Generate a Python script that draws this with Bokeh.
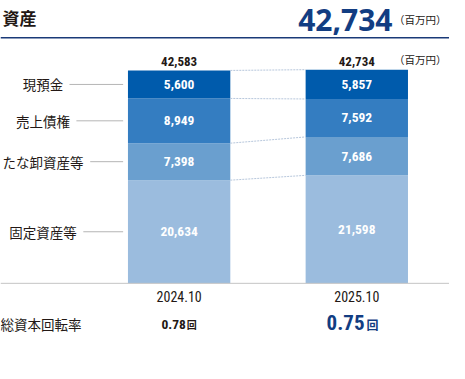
from bokeh.plotting import figure
from bokeh.models import Range1d, ColumnDataSource
from bokeh.core.properties import value
from bokeh.embed import file_html
from bokeh.resources import INLINE

# ---- data ----
categories = ["現預金", "売上債権", "たな卸資産等", "固定資産等"]
periods = ["2024.10", "2025.10"]
cash = [5600, 5857]
receivables = [8949, 7592]
inventory = [7398, 7686]
fixed_assets = [20634, 21598]
totals = [42583, 42734]
turnover = ["0.78", "0.75"]
headline_total = "42,734"
unit_label = "（百万円）"
title = "資産"
turnover_label = "総資本回転率"

# ---- layout (reference pixel space 465 x 379, drawn into 449 x 363) ----
W, H = 449, 363
REF_W, REF_H = 465, 379
BASE_PX = 295.3          # baseline in reference px
PX_PER_UNIT = 0.00522    # reference px per million yen
y_start = -(REF_H - BASE_PX) / PX_PER_UNIT
y_end = BASE_PX / PX_PER_UNIT

p = figure(width=W, height=H, output_backend="svg", toolbar_location=None,
           x_range=Range1d(0, REF_W), y_range=Range1d(y_start, y_end),
           x_axis_type=None, y_axis_type=None, min_border=0)
p.extra_y_ranges = {"px": Range1d(REF_H, 0)}
p.grid.visible = False
p.outline_line_color = None
p.background_fill_color = "white"
p.border_fill_color = "white"

NUM_FONT = value("Roboto Condensed")
JP_FONT = value("Noto Sans CJK JP")
DARK = "#231815"
NAVY = "#123d82"
colors = ["#9bbcde", "#6a9fcf", "#347dc1", "#005bac"]  # bottom -> top

bar_x = [185, 369]
bar_w = 106

# stacked segments bottom->top
stack = [fixed_assets, inventory, receivables, cash]
bottoms = [0, 0]
seg_mids = []
tops_all = []
for vals, col in zip(stack, colors):
    tops = [b + v for b, v in zip(bottoms, vals)]
    src = ColumnDataSource(dict(x=bar_x, bottom=bottoms, top=tops,
                                mid=[(b + t) / 2 for b, t in zip(bottoms, tops)],
                                lab=[f"{v:,}" for v in vals]))
    p.vbar(x="x", width=bar_w, bottom="bottom", top="top", source=src,
           fill_color=col, line_color=None)
    p.text(x="x", y="mid", text="lab", source=src, text_align="center",
           text_baseline="middle", text_color="white", text_font=NUM_FONT,
           text_font_size="13.5px", text_font_style="bold")
    seg_mids.append([(b + t) / 2 for b, t in zip(bottoms, tops)])
    tops_all.append(tops)
    bottoms = tops

# connector dotted lines between bars
x_left_edge = bar_x[0] + bar_w / 2
x_right_edge = bar_x[1] - bar_w / 2
p.segment(x0=[x_left_edge] * 4, y0=[t[0] for t in tops_all],
          x1=[x_right_edge] * 4, y1=[t[1] for t in tops_all],
          line_color="#b7c7dc", line_width=1, line_dash="2 1")

# left category labels (categories listed top->bottom, stack is bottom->top)
label_cx = 44
for i, cat in enumerate(categories):
    ymid = seg_mids[len(categories) - 1 - i][0]
    p.text(x=[label_cx], y=[ymid], text=[cat], text_align="center",
           text_baseline="middle", text_color=DARK, text_font=JP_FONT,
           text_font_size="13.5px")
    x0 = label_cx + len(cat) * 14.3 / 2 + 6
    p.segment(x0=[x0], y0=[ymid], x1=[127], y1=[ymid],
              line_color="#b5b5b5", line_width=1)

# totals above bars
p.text(x=bar_x, y=totals, text=[f"{t:,}" for t in totals], text_align="center",
       text_baseline="bottom", y_offset=-4, text_color=DARK, text_font=NUM_FONT,
       text_font_size="13px", text_font_style="bold")
p.text(x=[462], y=[62], y_range_name="px", text=[unit_label], text_align="right",
       text_baseline="middle", text_color=DARK, text_font=JP_FONT,
       text_font_size="10.5px")

# baseline
p.segment(x0=[0], y0=[0], x1=[REF_W], y1=[0], line_color="#c4c4c4", line_width=1)

# period labels
p.text(x=bar_x, y=[309, 309], y_range_name="px", text=periods, text_align="center",
       text_baseline="middle", text_color=DARK, text_font=NUM_FONT,
       text_font_size="14px")

# turnover row
p.text(x=[0], y=[338], y_range_name="px", text=[turnover_label], text_align="left",
       text_baseline="middle", text_color=DARK, text_font=JP_FONT,
       text_font_size="13.5px")
p.text(x=[192], y=[338], y_range_name="px", text=[turnover[0]], text_align="right",
       text_baseline="middle", text_color=DARK, text_font=NUM_FONT,
       text_font_size="13.5px", text_font_style="bold")
p.text(x=[193], y=[338], y_range_name="px", text=["回"], text_align="left",
       text_baseline="middle", text_color=DARK, text_font=JP_FONT,
       text_font_size="10px", text_font_style="bold")
p.text(x=[377], y=[336], y_range_name="px", text=[turnover[1]], text_align="right",
       text_baseline="middle", text_color=NAVY, text_font=NUM_FONT,
       text_font_size="21px", text_font_style="bold")
p.text(x=[379], y=[338], y_range_name="px", text=["回"], text_align="left",
       text_baseline="middle", text_color=NAVY, text_font=JP_FONT,
       text_font_size="12px", text_font_style="bold")

# header
p.text(x=[2], y=[18], y_range_name="px", text=[title], text_align="left",
       text_baseline="middle", text_color=DARK, text_font=JP_FONT,
       text_font_size="17px", text_font_style="bold")
p.text(x=[406], y=[20], y_range_name="px", text=[headline_total], text_align="right",
       text_baseline="middle", text_color=NAVY, text_font=value("Noto Sans"),
       text_font_size="30px", text_font_style="bold")
p.text(x=[462], y=[20], y_range_name="px", text=[unit_label], text_align="right",
       text_baseline="middle", text_color=DARK, text_font=JP_FONT,
       text_font_size="10.5px")
p.segment(x0=[0], y0=[39], x1=[REF_W], y1=[39], y_range_name="px",
          line_color="#1a3a78", line_width=1.5)

open("out.html", "w").write(file_html(p, INLINE))
